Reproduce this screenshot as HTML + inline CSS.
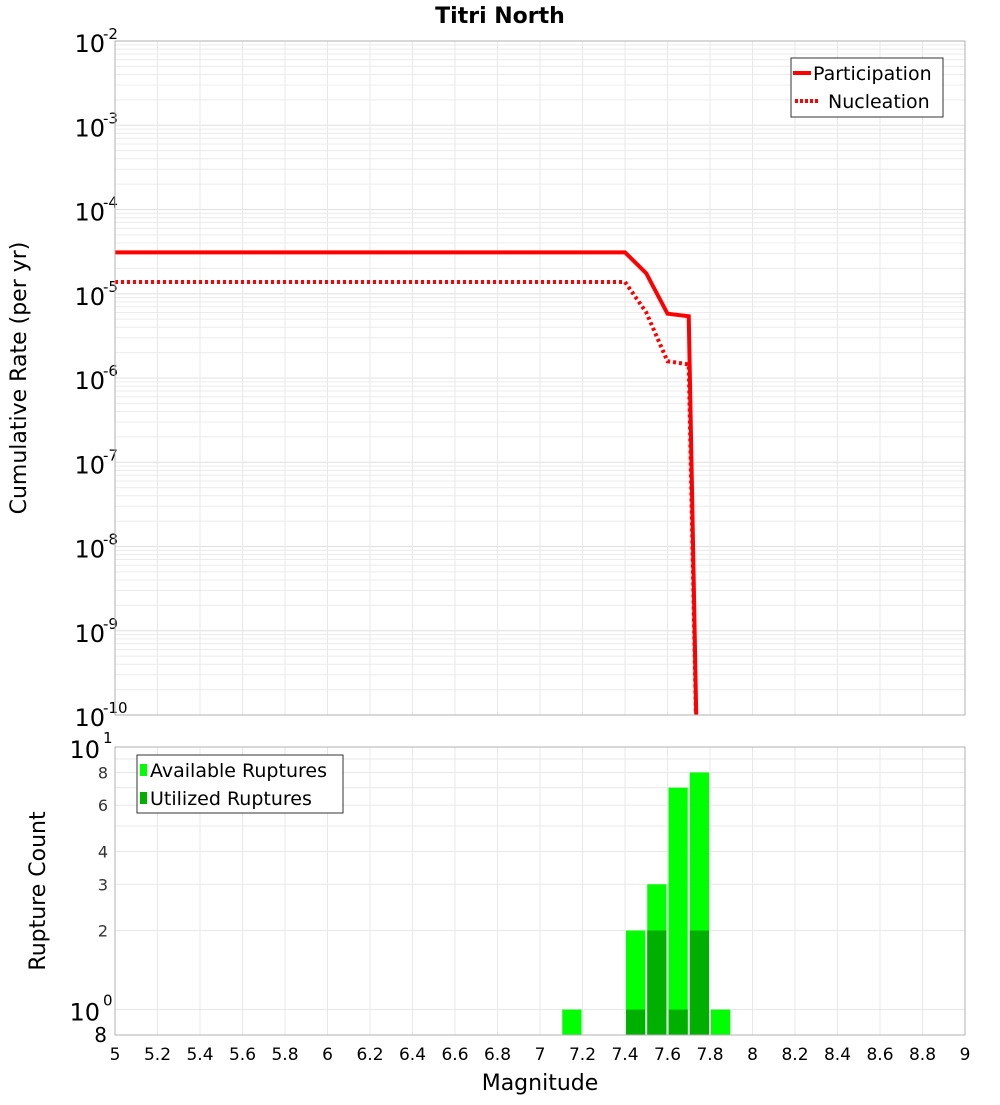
<!DOCTYPE html>
<html><head><meta charset="utf-8"><style>
body{margin:0;background:#fff;}
svg text{font-family:"DejaVu Sans","Liberation Sans",sans-serif;}
</style></head><body>
<svg id="chart" width="1000" height="1100" xmlns="http://www.w3.org/2000/svg">
<rect width="1000" height="1100" fill="#fff"/>
<text x="500" y="23" text-anchor="middle" font-size="22" font-weight="bold">Titri North</text>
<g id="topg"></g><g id="botg"></g>
<text transform="translate(26,378) rotate(-90)" text-anchor="middle" font-size="22">Cumulative Rate (per yr)</text>
<text transform="translate(45,891) rotate(-90)" text-anchor="middle" font-size="22">Rupture Count</text>
<text x="540" y="1090" text-anchor="middle" font-size="22">Magnitude</text>
</svg>
<script>
const partMag=[5,7.4,7.5,7.6,7.7,7.75];
const partRate=[3.1e-5,3.1e-5,1.75e-5,5.8e-6,5.4e-6,1e-12];
const nuclMag=[5,7.4,7.5,7.6,7.7,7.75];
const nuclRate=[1.38e-5,1.38e-5,6e-6,1.58e-6,1.45e-6,1e-12];
const binMag=[7.15,7.45,7.55,7.65,7.75,7.85];
const availCount=[1,2,3,7,8,1];
const usedCount=[0,1,2,1,2,0];
const xTicks=[5,5.2,5.4,5.6,5.8,6,6.2,6.4,6.6,6.8,7,7.2,7.4,7.6,7.8,8,8.2,8.4,8.6,8.8,9];
const NS="http://www.w3.org/2000/svg";
const X0=115,X1=965;
const xs=m=>X0+(m-5)/4*(X1-X0);
const TY0=41,TY1=715;
const ty=v=>TY0+(-2-Math.log10(v))/8*(TY1-TY0);
const BY0=747,BY1=1035,bl0=Math.log10(0.8),bl1=1;
const by=v=>BY1-(Math.log10(v)-bl0)/(bl1-bl0)*(BY1-BY0);
function mk(p,tag,a){const e=document.createElementNS(NS,tag);for(const k in a)e.setAttribute(k,a[k]);p.appendChild(e);return e;}
const topG=document.getElementById('topg'),botG=document.getElementById('botg');
for(let d=-10;d<-2;d++)for(let k=1;k<10;k++){const y=ty(k*Math.pow(10,d));const l=mk(topG,'line',{x1:X0,x2:X1,y1:y,y2:y,stroke:k==1?'#e0e0e0':'#ececec','stroke-width':1});}
xTicks.forEach(t=>{const x=xs(t);const l=mk(topG,'line',{x1:x,x2:x,y1:TY0,y2:TY1,stroke:'#e8e8e8'});
const l2=mk(botG,'line',{x1:x,x2:x,y1:BY0,y2:BY1,stroke:'#e8e8e8'});
const tx=mk(botG,'text',{x:x,y:1060,'text-anchor':'middle','font-size':17});tx.textContent=String(t);});
for(let d=-10;d<=-2;d++){const y=ty(Math.pow(10,d));const t=mk(topG,'text',{x:105,y:y+11,'text-anchor':'end','font-size':24});t.textContent='10';
const s=mk(topG,'text',{x:103,y:y-2,'font-size':15});s.textContent=String(d);}
const cp=mk(topG,'clipPath',{id:'cpt'});mk(cp,'rect',{x:X0,y:TY0,width:X1-X0,height:TY1-TY0});
let d1=partMag.map((m,i)=>(i?'L':'M')+xs(m)+','+ty(partRate[i])).join('');
const p1=mk(topG,'path',{d:d1,fill:'none',stroke:'#f00','stroke-width':4,'clip-path':'url(#cpt)'});
let d2=nuclMag.map((m,i)=>(i?'L':'M')+xs(m)+','+ty(nuclRate[i])).join('');
const p2=mk(topG,'path',{d:d2,fill:'none',stroke:'#f00','stroke-width':4,'stroke-dasharray':'3,3','clip-path':'url(#cpt)'});
mk(topG,'rect',{x:X0,y:TY0,width:X1-X0,height:TY1-TY0,fill:'none',stroke:'#b0b0b0'});
const lg=mk(topG,'g',{});
mk(lg,'rect',{x:791,y:58,width:152,height:59,fill:'#fff',stroke:'#333'});
mk(lg,'line',{x1:793,x2:811,y1:73,y2:73,stroke:'#f00','stroke-width':4});
mk(lg,'line',{x1:795,x2:820,y1:101,y2:101,stroke:'#f00','stroke-width':4,'stroke-dasharray':'3,2'});
let t1=mk(lg,'text',{x:813,y:80,'font-size':19});t1.textContent='Participation';
let t2=mk(lg,'text',{x:828,y:108,'font-size':19});t2.textContent='Nucleation';
for(let k=1;k<=10;k++){const y=by(k);const l=mk(botG,'line',{x1:X0,x2:X1,y1:y,y2:y,stroke:'#e8e8e8'});}
[[2,'2'],[3,'3'],[4,'4'],[6,'6'],[8,'8']].forEach(([v,s])=>{const t=mk(botG,'text',{x:108,y:by(v)+6,'text-anchor':'end','font-size':16,fill:'#333'});t.textContent=s;});
[[1,'0'],[10,'1']].forEach(([v,e])=>{const t=mk(botG,'text',{x:100,y:by(v)+11,'text-anchor':'end','font-size':24});t.textContent='10';const s=mk(botG,'text',{x:103,y:by(v)-4,'font-size':15});s.textContent=e;});
const t8=mk(botG,'text',{x:107,y:1042,'text-anchor':'end','font-size':20});t8.textContent='8';
binMag.forEach((m,i)=>{const xa=xs(m-0.05)+1,w=xs(m+0.05)-xs(m-0.05)-2;
const r=mk(botG,'rect',{x:xa,y:by(availCount[i]),width:w,height:BY1-by(availCount[i]),fill:'#00ff00'});
if(usedCount[i]>0){const r2=mk(botG,'rect',{x:xa,y:by(usedCount[i]),width:w,height:BY1-by(usedCount[i]),fill:'#00b000'});}});
mk(botG,'rect',{x:X0,y:BY0,width:X1-X0,height:BY1-BY0,fill:'none',stroke:'#b0b0b0'});
const lg2=mk(botG,'g',{});
mk(lg2,'rect',{x:137,y:755,width:206,height:58,fill:'#fff',stroke:'#333'});
mk(lg2,'rect',{x:140,y:764,width:7,height:12,fill:'#00ff00'});
mk(lg2,'rect',{x:140,y:792,width:7,height:12,fill:'#00b000'});
let t3=mk(lg2,'text',{x:150,y:777,'font-size':19});t3.textContent='Available Ruptures';
let t4=mk(lg2,'text',{x:150,y:805,'font-size':19});t4.textContent='Utilized Ruptures';
</script>
</body></html>
